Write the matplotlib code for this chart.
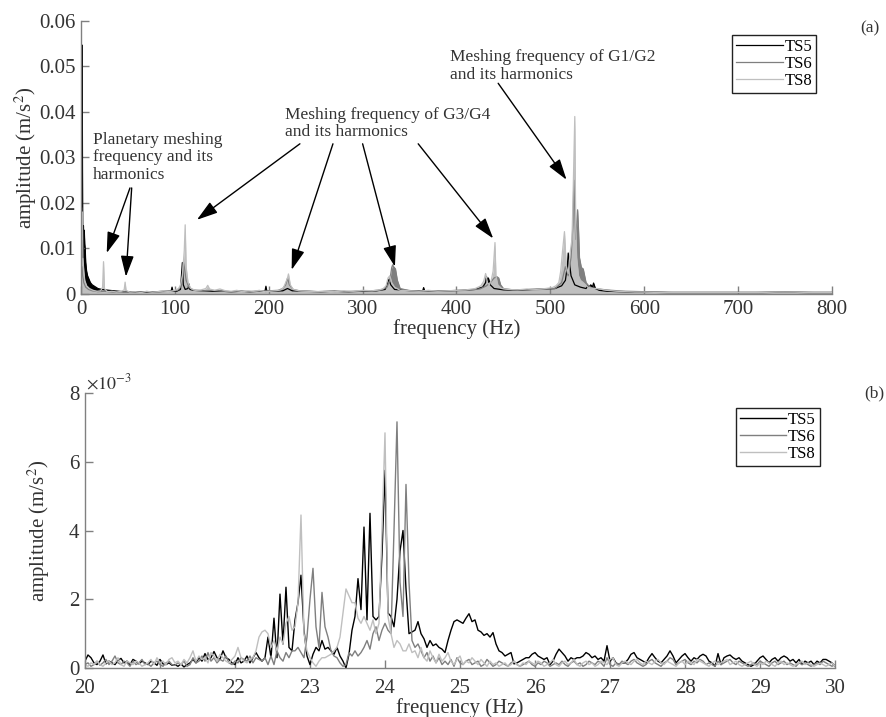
import numpy as np
import matplotlib
matplotlib.use('Agg')
from matplotlib import pyplot as plt
from matplotlib.ticker import FuncFormatter

plt.rcParams['font.family'] = 'Liberation Serif'
plt.rcParams['mathtext.fontset'] = 'stix'

# ---- (a) full spectrum, 0-800 Hz (m/s^2) ----
f5 = [0, 0.6, 1.2, 1.8, 2.2, 2.6, 3, 3.5, 4, 4.5, 5, 6, 7, 8, 10, 12, 15, 18, 22, 26,
      30, 35, 40, 45, 50, 55, 60, 70, 80, 90, 96, 97, 98, 102, 106, 107, 108, 109, 111, 114,
      115, 116, 120, 130, 140, 150, 160, 170, 180, 190, 196, 197, 198, 205, 215, 220, 225, 240, 255, 270,
      285, 300, 315, 324, 326, 328, 330, 334, 345, 355, 364, 365, 366, 375, 390, 405, 420, 428, 431, 432,
      433, 434, 436, 440, 450, 465, 480, 495, 505, 512, 516, 518, 519, 520, 522, 526, 532, 538, 540, 541,
      543, 545, 546, 548, 552, 560, 575, 590, 600, 625, 650, 675, 700, 725, 750, 775, 800]
a5 = [0.005, 0.01, 0.0547, 0.015, 0.008, 0.015, 0.012, 0.014, 0.011, 0.01, 0.007, 0.005, 0.004, 0.0035, 0.0025, 0.002, 0.0016, 0.0012, 0.001, 0.0009,
      0.0008, 0.0007, 0.0006, 0.0005, 0.0005, 0.0004, 0.0005, 0.0004, 0.0005, 0.0006, 0.0006, 0.0015, 0.0006, 0.0006, 0.001, 0.004, 0.0069, 0.002, 0.001, 0.0012,
      0.0022, 0.001, 0.0008, 0.0007, 0.0006, 0.0006, 0.0005, 0.0006, 0.0005, 0.0006, 0.0006, 0.0017, 0.0006, 0.0006, 0.0007, 0.0012, 0.0007, 0.0006, 0.0005, 0.0006,
      0.0005, 0.0006, 0.0007, 0.001, 0.002, 0.0032, 0.002, 0.001, 0.0008, 0.0007, 0.0007, 0.0014, 0.0007, 0.0006, 0.0007, 0.0008, 0.001, 0.0015, 0.0025, 0.0038,
      0.003, 0.0035, 0.002, 0.0012, 0.0009, 0.0008, 0.001, 0.0011, 0.0012, 0.0018, 0.003, 0.006, 0.009, 0.0075, 0.004, 0.002, 0.0015, 0.0012, 0.0018, 0.0015,
      0.002, 0.0016, 0.0024, 0.0012, 0.0008, 0.0006, 0.0005, 0.0004, 0.0004, 0.0003, 0.0003, 0.0003, 0.0003, 0.0003, 0.0004, 0.0003, 0.0003]

f6 = [0, 1, 2, 3, 5, 8, 12, 18, 25, 35, 45, 55, 65, 75, 85, 95, 103, 106, 108, 109,
      110, 112, 115, 120, 130, 140, 150, 160, 170, 180, 190, 200, 210, 215, 218, 220, 222, 226, 235, 250,
      265, 280, 295, 310, 320, 326, 329, 331, 332, 333, 335, 337, 340, 350, 365, 380, 395, 410, 425, 432,
      436, 438, 440, 443, 445, 447, 450, 460, 475, 490, 505, 512, 516, 519, 522, 524, 525, 527, 529, 530,
      531, 533, 535, 538, 542, 548, 555, 565, 580, 600, 630, 660, 690, 720, 750, 780, 800]
a6 = [0.001, 0.006, 0.004, 0.0025, 0.0015, 0.001, 0.0007, 0.0005, 0.0006, 0.0004, 0.0005, 0.0004, 0.0005, 0.0004, 0.0005, 0.0006, 0.0008, 0.0015, 0.004, 0.007,
      0.006, 0.003, 0.0015, 0.0008, 0.0007, 0.0008, 0.0006, 0.0005, 0.0006, 0.0005, 0.0006, 0.0007, 0.0008, 0.0012, 0.002, 0.0035, 0.002, 0.001, 0.0006, 0.0005,
      0.0006, 0.0005, 0.0006, 0.0007, 0.0009, 0.0015, 0.003, 0.0058, 0.0064, 0.006, 0.0055, 0.003, 0.0012, 0.0007, 0.0006, 0.0006, 0.0007, 0.0008, 0.0011, 0.0018,
      0.0025, 0.003, 0.0035, 0.0038, 0.0035, 0.002, 0.0012, 0.0009, 0.0009, 0.001, 0.0012, 0.0025, 0.006, 0.004, 0.008, 0.015, 0.025, 0.012, 0.0185, 0.014,
      0.008, 0.0058, 0.0055, 0.0025, 0.0015, 0.0012, 0.001, 0.0008, 0.0006, 0.0005, 0.0004, 0.0004, 0.0004, 0.0004, 0.0005, 0.0004, 0.0004]

f8 = [0, 0.5, 1, 1.5, 2, 3, 4, 6, 9, 13, 17, 21, 23, 24, 25, 28, 33, 38, 43, 46,
      47, 48, 52, 58, 64, 70, 76, 82, 88, 94, 100, 104, 106, 108, 110, 111, 112, 114, 117, 122,
      128, 133, 135, 137, 142, 148, 154, 160, 166, 172, 178, 184, 190, 196, 202, 208, 213, 216, 218, 220,
      221, 223, 226, 232, 240, 250, 260, 270, 280, 290, 300, 310, 318, 322, 325, 327, 329, 331, 334, 340,
      350, 360, 370, 380, 390, 400, 410, 420, 426, 429, 431, 433, 435, 437, 439, 441, 442, 444, 448, 455,
      465, 475, 485, 495, 502, 506, 509, 511, 513, 515, 517, 519, 521, 523, 524, 526, 527, 528, 530, 532,
      535, 540, 545, 550, 560, 570, 580, 590, 600, 620, 640, 660, 680, 700, 720, 740, 760, 780, 800]
a8 = [0.002, 0.019, 0.012, 0.018, 0.008, 0.005, 0.003, 0.0018, 0.0012, 0.0008, 0.0006, 0.0007, 0.0015, 0.0071, 0.0012, 0.0005, 0.0006, 0.0004, 0.0006, 0.0009,
      0.0026, 0.0008, 0.0004, 0.0005, 0.0003, 0.0006, 0.0004, 0.0005, 0.0007, 0.0005, 0.0008, 0.0012, 0.002, 0.004, 0.0095, 0.0152, 0.006, 0.0025, 0.0012, 0.0008,
      0.0009, 0.0012, 0.0019, 0.0011, 0.0008, 0.0011, 0.0007, 0.0006, 0.0008, 0.0005, 0.0007, 0.0006, 0.0008, 0.0005, 0.0006, 0.0007, 0.0009, 0.0015, 0.0025, 0.0035,
      0.0044, 0.002, 0.001, 0.0007, 0.0006, 0.0005, 0.0006, 0.0005, 0.0007, 0.0006, 0.0008, 0.0007, 0.0009, 0.0012, 0.0018, 0.0035, 0.004, 0.0025, 0.0015, 0.0008,
      0.0007, 0.0006, 0.0008, 0.0006, 0.0007, 0.0008, 0.0009, 0.0012, 0.0018, 0.0028, 0.0045, 0.0025, 0.002, 0.003, 0.005, 0.0113, 0.004, 0.002, 0.0012, 0.001,
      0.0009, 0.0011, 0.001, 0.0012, 0.0014, 0.0018, 0.0025, 0.005, 0.0095, 0.0137, 0.006, 0.0045, 0.009, 0.012, 0.02, 0.039, 0.015, 0.008, 0.004, 0.003,
      0.0025, 0.0015, 0.0012, 0.0012, 0.0008, 0.0006, 0.0005, 0.0004, 0.0004, 0.0003, 0.0003, 0.0003, 0.0003, 0.0003, 0.0003, 0.0004, 0.0004, 0.0003, 0.0003]

# ---- (b) zoom 20-30 Hz, values in 1e-3 m/s^2, 0.04 Hz bins ----
freq_b = np.round(np.linspace(20, 30, 251), 2)
ts5_b = [0.2, 0.38, 0.3, 0.15, 0.1, 0.2, 0.38, 0.12, 0.2, 0.15,
         0.1, 0.22, 0.28, 0.15, 0.2, 0.1, 0.25, 0.2, 0.12, 0.2,
         0.15, 0.1, 0.2, 0.15, 0.08, 0.25, 0.12, 0.1, 0.15, 0.08,
         0.1, 0.05, 0.12, 0.03, 0.1, 0.15, 0.25, 0.15, 0.3, 0.2,
         0.42, 0.25, 0.3, 0.48, 0.3, 0.25, 0.5, 0.3, 0.25, 0.15,
         0.1, 0.3, 0.15, 0.2, 0.35, 0.15, 0.3, 0.45, 0.3, 0.2,
         0.3, 0.9, 0.3, 1.45, 0.3, 2.15, 0.7, 2.35, 0.6, 0.5,
         1.4, 1.9, 2.7, 1.1, 0.35, 0.1, 0.4, 0.6, 0.5, 0.8,
         0.55, 0.6, 0.5, 0.4, 0.6, 0.35, 0.2, 0.0, 0.4, 1.1,
         1.5, 2.6, 1.7, 4.1, 1.4, 4.5, 1.5, 1.4, 1.5, 3.3,
         5.75, 1.6, 1.5, 1.2, 2.0, 3.4, 4.0, 2.3, 1.0, 1.05,
         1.1, 1.35, 1.0, 0.85, 0.6, 0.8, 0.65, 0.7, 0.6, 0.55,
         0.45, 0.8, 1.1, 1.35, 1.4, 1.35, 1.3, 1.45, 1.58, 1.35,
         1.4, 1.1, 1.05, 0.95, 1.0, 0.9, 1.03, 0.7, 0.5, 0.45,
         0.35, 0.4, 0.45, 0.12, 0.15, 0.2, 0.25, 0.3, 0.3, 0.4,
         0.45, 0.35, 0.3, 0.25, 0.3, 0.1, 0.2, 0.4, 0.55, 0.45,
         0.35, 0.2, 0.3, 0.25, 0.3, 0.3, 0.35, 0.45, 0.4, 0.3,
         0.35, 0.25, 0.3, 0.2, 0.65, 0.2, 0.3, 0.15, 0.1, 0.15,
         0.15, 0.25, 0.4, 0.45, 0.3, 0.25, 0.2, 0.15, 0.3, 0.42,
         0.3, 0.2, 0.15, 0.25, 0.35, 0.5, 0.35, 0.15, 0.25, 0.35,
         0.42, 0.3, 0.2, 0.3, 0.25, 0.35, 0.4, 0.35, 0.2, 0.15,
         0.05, 0.42, 0.1, 0.3, 0.35, 0.38, 0.3, 0.25, 0.3, 0.2,
         0.15, 0.1, 0.05, 0.1, 0.2, 0.3, 0.35, 0.25, 0.15, 0.25,
         0.3, 0.2, 0.3, 0.35, 0.3, 0.2, 0.25, 0.15, 0.25, 0.1,
         0.2, 0.15, 0.2, 0.1, 0.2, 0.15, 0.25, 0.25, 0.2, 0.15, 0.05]
ts6_b = [0.1, 0.15, 0.05, 0.1, 0.2, 0.08, 0.15, 0.25, 0.1, 0.2,
         0.35, 0.15, 0.1, 0.2, 0.15, 0.05, 0.2, 0.1, 0.15, 0.25,
         0.1, 0.12, 0.05, 0.15, 0.2, 0.1, 0.05, 0.15, 0.2, 0.1,
         0.08, 0.15, 0.1, 0.2, 0.05, 0.1, 0.3, 0.15, 0.2, 0.35,
         0.2, 0.45, 0.2, 0.3, 0.15, 0.25, 0.2, 0.35, 0.15, 0.1,
         0.2, 0.15, 0.3, 0.25, 0.2, 0.35, 0.15, 0.3, 0.25, 0.2,
         0.3, 0.1, 0.35, 0.1, 0.5, 0.3, 0.2, 0.45, 0.3, 0.5,
         0.5, 0.6, 0.45, 0.3, 0.9, 2.0, 2.9, 1.2, 0.6, 2.2,
         1.2, 0.9, 0.5, 0.35, 0.3, 0.15, 0.05, 0.1, 0.45, 0.35,
         0.5, 0.35, 0.45, 0.6, 0.8, 0.55, 1.0, 1.2, 0.8, 1.1,
         1.3, 1.1, 1.0, 4.0, 7.16, 2.5, 1.5, 5.34, 2.5, 0.8,
         0.6, 0.7, 0.5, 0.3, 0.45, 0.2, 0.35, 0.15, 0.3, 0.1,
         0.2, 0.1, 0.25, 0.05, 0.3, 0.15, 0.1, 0.2, 0.25, 0.1,
         0.15, 0.2, 0.05, 0.1, 0.25, 0.15, 0.05, 0.1, 0.2, 0.15,
         0.1, 0.05, 0.15, 0.2, 0.1, 0.05, 0.1, 0.15, 0.2, 0.1,
         0.05, 0.15, 0.1, 0.2, 0.15, 0.05, 0.1, 0.15, 0.1, 0.2,
         0.1, 0.05, 0.15, 0.2, 0.1, 0.15, 0.05, 0.1, 0.2, 0.15,
         0.1, 0.2, 0.15, 0.05, 0.3, 0.1, 0.05, 0.15, 0.1, 0.2,
         0.15, 0.1, 0.2, 0.25, 0.15, 0.1, 0.05, 0.1, 0.2, 0.25,
         0.15, 0.1, 0.05, 0.15, 0.2, 0.3, 0.25, 0.1, 0.15, 0.2,
         0.25, 0.15, 0.1, 0.2, 0.15, 0.25, 0.2, 0.1, 0.15, 0.1,
         0.05, 0.2, 0.1, 0.15, 0.2, 0.25, 0.15, 0.1, 0.2, 0.15,
         0.1, 0.05, 0.1, 0.15, 0.1, 0.2, 0.15, 0.1, 0.05, 0.15,
         0.2, 0.1, 0.15, 0.2, 0.1, 0.15, 0.1, 0.05, 0.15, 0.1,
         0.15, 0.1, 0.05, 0.1, 0.15, 0.1, 0.2, 0.15, 0.1, 0.05, 0.1]
ts8_b = [0.1, 0.05, 0.15, 0.1, 0.2, 0.1, 0.05, 0.15, 0.2, 0.1,
         0.15, 0.3, 0.1, 0.05, 0.2, 0.15, 0.1, 0.2, 0.15, 0.05,
         0.1, 0.15, 0.25, 0.1, 0.3, 0.15, 0.2, 0.1, 0.25, 0.3,
         0.15, 0.2, 0.1, 0.25, 0.15, 0.3, 0.5, 0.2, 0.35, 0.25,
         0.3, 0.15, 0.45, 0.35, 0.2, 0.4, 0.3, 0.2, 0.15, 0.25,
         0.35, 0.6, 0.3, 0.2, 0.15, 0.25, 0.3, 0.5, 0.9, 1.05,
         1.1, 1.0, 0.6, 0.8, 0.5, 0.9, 0.7, 1.3, 1.5, 1.1,
         1.2, 1.9, 4.45, 1.0, 0.5, 0.3, 0.15, 0.05, 0.2, 0.3,
         0.3, 0.35, 0.4, 0.5, 0.6, 0.9, 1.6, 2.3, 2.1, 1.9,
         1.9, 1.45, 1.3, 1.5, 1.3, 1.1, 1.4, 1.0, 1.3, 4.0,
         6.84, 1.5, 1.0, 0.6, 0.8, 0.7, 0.5, 0.5, 0.7, 0.45,
         0.5, 0.3, 0.6, 0.3, 0.2, 0.5, 0.3, 0.15, 0.4, 0.2,
         0.3, 0.45, 0.2, 0.1, 0.25, 0.35, 0.1, 0.2, 0.15, 0.3,
         0.2, 0.1, 0.25, 0.15, 0.05, 0.2, 0.1, 0.15, 0.05, 0.1,
         0.15, 0.05, 0.1, 0.2, 0.1, 0.05, 0.15, 0.1, 0.2, 0.15,
         0.1, 0.2, 0.15, 0.05, 0.1, 0.15, 0.25, 0.1, 0.05, 0.15,
         0.2, 0.1, 0.15, 0.25, 0.1, 0.05, 0.15, 0.2, 0.1, 0.15,
         0.05, 0.1, 0.2, 0.15, 0.1, 0.25, 0.3, 0.1, 0.05, 0.15,
         0.2, 0.15, 0.1, 0.2, 0.25, 0.15, 0.1, 0.2, 0.15, 0.1,
         0.2, 0.25, 0.15, 0.1, 0.2, 0.15, 0.1, 0.05, 0.15, 0.2,
         0.1, 0.2, 0.15, 0.1, 0.25, 0.2, 0.15, 0.1, 0.05, 0.15,
         0.2, 0.1, 0.15, 0.2, 0.25, 0.1, 0.15, 0.2, 0.1, 0.05,
         0.1, 0.15, 0.2, 0.1, 0.05, 0.15, 0.1, 0.2, 0.15, 0.1,
         0.05, 0.15, 0.2, 0.1, 0.15, 0.1, 0.05, 0.1, 0.15, 0.2,
         0.1, 0.15, 0.1, 0.05, 0.1, 0.15, 0.1, 0.05, 0.1, 0.15, 0.05]

names = ['TS5', 'TS6', 'TS8']
colors = ['#000000', '#7f7f7f', '#bfbfbf']
txt_c = '#333333'
ax_c = '#808080'

fig = plt.figure(figsize=(8.87, 7.17), dpi=100)
ax1 = fig.add_axes([0.0913, 0.590, 0.8467, 0.3808])
ax2 = fig.add_axes([0.0958, 0.0683, 0.8456, 0.3836])

def estilo(ax):
    for s in ['top', 'right']:
        ax.spines[s].set_visible(False)
    for s in ['left', 'bottom']:
        ax.spines[s].set_color(ax_c)
        ax.spines[s].set_linewidth(1.0)
    ax.tick_params(direction='in', length=6, width=1, color=ax_c,
                   labelcolor=txt_c, labelsize=15, pad=4)

# panel (a)
lines = []
for f, a, c, n in zip([f5, f6, f8], [a5, a6, a8], colors, names):
    ax1.fill_between(f, a, 0, color=c, lw=0)
    l, = ax1.plot(f, a, color=c, lw=0.9, label=n)
    lines.append(l)
ax1.set_xlim(0, 800)
ax1.set_ylim(0, 0.06)
ax1.set_xticks(np.arange(0, 801, 100))
ax1.set_yticks(np.arange(0, 0.061, 0.01))
ax1.yaxis.set_major_formatter(FuncFormatter(lambda v, p: '%g' % round(v, 3)))
estilo(ax1)
ax1.set_xlabel('frequency (Hz)', fontsize=15, color=txt_c, labelpad=0.5)
ax1.set_ylabel('amplitude (m/s$^2$)', fontsize=15, color=txt_c, labelpad=0)
leg = ax1.legend(handles=lines, loc='upper right', bbox_to_anchor=(0.979, 0.949),
                 fancybox=False, edgecolor='#222222', framealpha=1, fontsize=12,
                 handlelength=2.8, borderpad=0.25, labelspacing=0.05, handletextpad=0.1,
                 borderaxespad=0)
leg.get_frame().set_linewidth(1.0)

ap = dict(arrowstyle='-|>,head_length=0.8,head_width=0.25', color='k', lw=1.0,
          shrinkA=0, shrinkB=0, mutation_scale=16)
# planetary meshing
ax1.text(12.8, 0.0300, 'Planetary meshing\nfrequency and its\nharmonics', fontsize=12.5,
         color=txt_c, ha='left', va='center', linespacing=1.1)
ax1.annotate('', xy=(27.4, 0.0090), xytext=(52.2, 0.0233), arrowprops=ap)
ax1.annotate('', xy=(47.9, 0.0038), xytext=(54.0, 0.0233), arrowprops=ap)
# G3/G4
ax1.text(217.3, 0.0374, 'Meshing frequency of G3/G4\nand its harmonics', fontsize=12.5,
         color=txt_c, ha='left', va='center', linespacing=1.1)
for s, t in [((233.2, 0.033), (123.5, 0.0163)), ((268.4, 0.033), (224.4, 0.0053)),
             ((300.0, 0.033), (334.4, 0.0060)), ((359.2, 0.033), (439.1, 0.0122))]:
    ax1.annotate('', xy=t, xytext=s, arrowprops=ap)
# G1/G2
ax1.text(393.0, 0.0501, 'Meshing frequency of G1/G2\nand its harmonics', fontsize=12.5,
         color=txt_c, ha='left', va='center', linespacing=1.1)
ax1.annotate('', xy=(517.2, 0.0251), xytext=(444.4, 0.0463), arrowprops=ap)

# panel (b)
lines_b = []
for v, c, n in zip([ts5_b, ts6_b, ts8_b], colors, names):
    l, = ax2.plot(freq_b, v, color=c, lw=1.0, label=n)
    lines_b.append(l)
ax2.set_xlim(20, 30)
ax2.set_ylim(0, 8)
ax2.set_xticks(np.arange(20, 31, 1))
ax2.set_yticks([0, 2, 4, 6, 8])
estilo(ax2)
ax2.tick_params(axis='x', pad=8)
ax2.set_xlabel('frequency (Hz)', fontsize=15, color=txt_c, labelpad=0)
ax2.set_ylabel('amplitude (m/s$^2$)', fontsize=15, color=txt_c, labelpad=12)
ax2.text(0.002, 1.0, r'$\times10^{-3}$', transform=ax2.transAxes, fontsize=13,
         color=txt_c, ha='left', va='bottom')
leg2 = ax2.legend(handles=lines_b, loc='upper right', bbox_to_anchor=(0.98, 0.945),
                  fancybox=False, edgecolor='#222222', framealpha=1, fontsize=12,
                  handlelength=2.8, borderpad=0.25, labelspacing=0.05, handletextpad=0.1,
                  borderaxespad=0)
leg2.get_frame().set_linewidth(1.0)

fig.text(0.981, 0.961, '(a)', fontsize=12.5, color=txt_c, ha='center', va='center')
fig.text(0.986, 0.452, '(b)', fontsize=12.5, color=txt_c, ha='center', va='center')

fig.savefig('out.png', dpi=100)
